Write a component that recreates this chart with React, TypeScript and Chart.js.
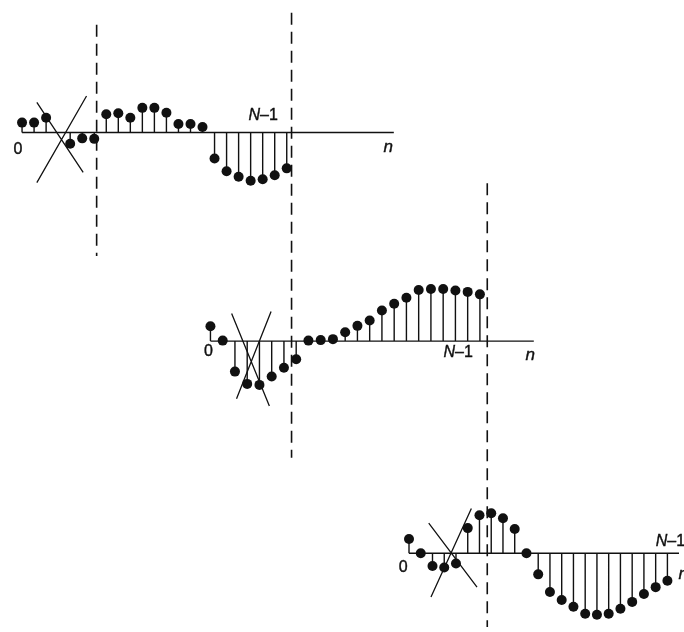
import { useEffect, useRef } from "react";
import { Chart, registerables } from "chart.js";

Chart.register(...registerables);

// ---- data: sample amplitudes (arbitrary units) of the three sections ----
const ROW1_VALUES: (number | null)[] = [
  0.2, 0.2, 0.3, null, -0.23, -0.12, -0.13, 0.37, 0.39, 0.3, 0.5, 0.5, 0.4,
  0.17, 0.17, 0.11, -0.53, -0.79, -0.9, -0.98, -0.95, -0.87, -0.73,
];
const ROW2_VALUES: (number | null)[] = [
  0.3, 0.01, -0.62, -0.87, -0.89, -0.72, -0.54, -0.37, 0.01, 0.02, 0.04, 0.18,
  0.31, 0.42, 0.62, 0.76, 0.88, 1.04, 1.06, 1.06, 1.03, 1.0, 0.95,
];
const ROW3_VALUES: (number | null)[] = [
  0.29, 0.0, -0.26, -0.29, -0.21, 0.51, 0.77, 0.81, 0.71, 0.49, 0.0, -0.43,
  -0.79, -0.95, -1.09, -1.23, -1.25, -1.23, -1.13, -0.99, -0.83, -0.69, -0.56,
];
const VALUES = [ROW1_VALUES, ROW2_VALUES, ROW3_VALUES];

// crossed-out samples: [n0, a0, n1, a1] in sample index / amplitude units
const CROSS_ROW1 = [
  [1.23, 0.61, 5.08, -0.81],
  [5.36, 0.74, 1.23, -1.02],
];
const CROSS_ROW2 = [
  [1.73, 0.56, 4.81, -1.32],
  [4.95, 0.6, 2.13, -1.17],
];
const CROSS_ROW3 = [
  [1.68, 0.61, 5.79, -0.69],
  [5.31, 0.91, 1.87, -0.89],
];
const CROSSES = [CROSS_ROW1, CROSS_ROW2, CROSS_ROW3];

// dashed block boundaries: row, sample index, top / bottom amplitude
const DIVIDER_ROW = [0, 0, 1];
const DIVIDER_N = [6.2, 22.4, 22.6];
const DIVIDER_TOP = [2.19, 2.43, 3.21];
const DIVIDER_BOTTOM = [-2.51, -6.61, -5.81];

// axis length in samples
const AXIS_END = [30.9, 26.4, 23.2];

// tick labels: text, sample index, amplitude
const ZERO_LABEL = "0";
const LAST_LABEL = "N";
const LAST_SUFFIX = "\u20131";
const AXIS_LABEL = "n";
const ZERO_POS = [
  [-0.35, -0.35],
  [-0.16, -0.21],
  [-0.5, -0.3],
];
const LAST_POS = [
  [20.04, 0.35],
  [20.23, -0.23],
  [22.25, 0.24],
];
const AXIS_LABEL_POS = [
  [30.44, -0.31],
  [26.1, -0.29],
  [23.35, -0.42],
];

// ---- layout (figure units = canvas pixels) ----
const W = 684;
const H = 632;
const AMP = 50;
const ROWS = [
  { x0: 17.3, step: 12.21, axisY: 129.5 },
  { x0: 208.5, step: 12.43, axisY: 341.5 },
  { x0: 410, step: 11.92, axisY: 557 },
];
const INK = "#111";

function pt(r: number, n: number, a: number) {
  const row = ROWS[r];
  return { x: row.x0 + n * row.step, y: row.axisY - a * AMP };
}

export default function App() {
  const ref = useRef<HTMLCanvasElement | null>(null);

  useEffect(() => {
    if (!ref.current) return;
    const datasets: any[] = [];

    VALUES.forEach((vals, r) => {
      // axis
      datasets.push({
        data: [pt(r, 0, 0), pt(r, AXIS_END[r], 0)],
        showLine: true,
        borderColor: INK,
        borderWidth: 1.4,
        pointRadius: 0,
      });
      // stems
      const stems: any[] = [];
      vals.forEach((v, n) => {
        if (v === null) return;
        stems.push(pt(r, n, 0), pt(r, n, v), { x: pt(r, n, 0).x, y: null });
      });
      datasets.push({
        data: stems,
        showLine: true,
        spanGaps: false,
        borderColor: INK,
        borderWidth: 1.4,
        pointRadius: 0,
      });
      // dots
      const dots: any[] = [];
      vals.forEach((v, n) => {
        if (v === null) return;
        dots.push(pt(r, n, v));
      });
      datasets.push({
        data: dots,
        showLine: false,
        pointRadius: 5,
        pointBackgroundColor: INK,
        pointBorderWidth: 0,
      });
      // crosses
      const cross: any[] = [];
      CROSSES[r].forEach(([n0, a0, n1, a1]) => {
        cross.push(pt(r, n0, a0), pt(r, n1, a1), { x: pt(r, n1, a1).x, y: null });
      });
      datasets.push({
        data: cross,
        showLine: true,
        spanGaps: false,
        borderColor: INK,
        borderWidth: 1.3,
        pointRadius: 0,
      });
    });

    DIVIDER_N.forEach((n, i) => {
      const r = DIVIDER_ROW[i];
      datasets.push({
        data: [pt(r, n, DIVIDER_TOP[i]), pt(r, n, DIVIDER_BOTTOM[i])],
        showLine: true,
        borderColor: INK,
        borderWidth: 1.6,
        borderDash: [12, 7],
        pointRadius: 0,
      });
    });

    const labelPlugin = {
      id: "labels",
      afterDatasetsDraw(chart: any) {
        const ctx = chart.ctx as CanvasRenderingContext2D;
        const xs = chart.scales.x;
        const ys = chart.scales.y;
        const P = (r: number, n: number, a: number) => {
          const p = pt(r, n, a);
          return [xs.getPixelForValue(p.x), ys.getPixelForValue(p.y)];
        };
        const REG = "16px 'Liberation Sans', Arial, sans-serif";
        const ITA = "italic 16px 'Liberation Sans', Arial, sans-serif";
        ctx.save();
        ctx.fillStyle = INK;
        ctx.strokeStyle = INK;
        ctx.lineWidth = 0.4;
        ctx.textBaseline = "middle";
        const draw = (t: string, x: number, y: number) => {
          ctx.fillText(t, x, y);
          ctx.strokeText(t, x, y);
        };
        for (let r = 0; r < 3; r++) {
          // zero
          ctx.font = REG;
          ctx.textAlign = "center";
          let [x, y] = P(r, ZERO_POS[r][0], ZERO_POS[r][1]);
          draw(ZERO_LABEL, x, y);
          // N-1
          [x, y] = P(r, LAST_POS[r][0], LAST_POS[r][1]);
          ctx.textAlign = "left";
          ctx.font = ITA;
          const w1 = ctx.measureText(LAST_LABEL).width;
          ctx.font = REG;
          const w2 = ctx.measureText(LAST_SUFFIX).width;
          const start = x - (w1 + w2) / 2;
          ctx.font = ITA;
          draw(LAST_LABEL, start, y);
          ctx.font = REG;
          draw(LAST_SUFFIX, start + w1, y);
          // n
          [x, y] = P(r, AXIS_LABEL_POS[r][0], AXIS_LABEL_POS[r][1]);
          ctx.textAlign = "center";
          ctx.font = "italic 17px 'Liberation Sans', Arial, sans-serif";
          draw(AXIS_LABEL, x, y);
        }
        ctx.restore();
      },
    };

    const chart = new Chart(ref.current, {
      type: "scatter",
      data: { datasets },
      options: {
        animation: false,
        responsive: false,
        devicePixelRatio: 1,
        layout: { padding: 0 },
        plugins: { legend: { display: false }, tooltip: { enabled: false } },
        events: [],
        scales: {
          x: { type: "linear", display: false, min: 0, max: W },
          y: { type: "linear", display: false, min: 0, max: H, reverse: true },
        },
      },
      plugins: [labelPlugin],
    });
    return () => chart.destroy();
  }, []);

  return (
    <div
      style={{
        position: "fixed",
        left: 0,
        top: 0,
        width: W,
        height: H,
        background: "#fff",
      }}
    >
      <canvas ref={ref} width={W} height={H} style={{ width: W, height: H }} />
    </div>
  );
}
